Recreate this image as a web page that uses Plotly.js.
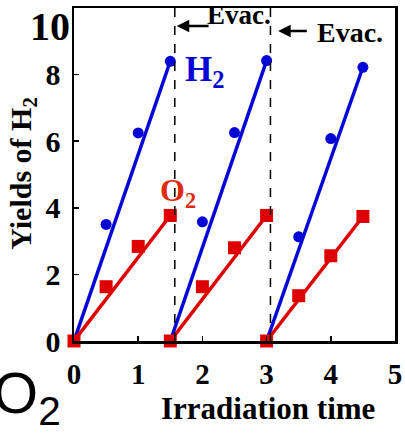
<!DOCTYPE html>
<html>
<head>
<meta charset="utf-8">
<script src="https://cdn.plot.ly/plotly-3.0.1.min.js"></script>
<style>html,body{margin:0;padding:0;background:#fff;}#chart{width:405px;height:436px;}</style>
</head>
<body>
<div id="chart"></div>
<script>
// Irradiation time per cycle
const timeCycle1 = [0, 0.5, 1.0, 1.5];
const timeCycle2 = [1.5, 2.0, 2.5, 3.0];
const timeCycle3 = [3.0, 3.5, 4.0, 4.5];
// Yields of H2 per cycle
const h2Cycle1 = [0, 3.50, 6.25, 8.40];
const h2Cycle2 = [0, 3.58, 6.26, 8.42];
const h2Cycle3 = [0, 3.13, 6.08, 8.22];
// Yields of O2 per cycle
const o2Cycle1 = [0, 1.63, 2.84, 3.77];
const o2Cycle2 = [0, 1.63, 2.80, 3.77];
const o2Cycle3 = [0, 1.36, 2.56, 3.74];
// Evacuation times
const evacTimes = [1.57, 3.06];
const xTicks = [0, 1, 2, 3, 4, 5];
const yTicks = [0, 2, 4, 6, 8];

const BLUE = '#0505d5';
const RED = '#de0000';
const serif = '"Liberation Serif", "Times New Roman", serif';

const times = [timeCycle1, timeCycle2, timeCycle3];
const h2 = [h2Cycle1, h2Cycle2, h2Cycle3];
const o2 = [o2Cycle1, o2Cycle2, o2Cycle3];

const traces = [];
function ends(a) { return [a[0], a[a.length - 1]]; }
for (let i = 0; i < 3; i++) {
  traces.push({x: ends(times[i]), y: ends(h2[i]), mode: 'lines', line: {color: BLUE, width: 3.5}, showlegend: false, hoverinfo: 'skip'});
}
for (let i = 0; i < 3; i++) {
  traces.push({x: ends(times[i]), y: ends(o2[i]), mode: 'lines', line: {color: RED, width: 3.5}, showlegend: false, hoverinfo: 'skip'});
}
for (let i = 0; i < 3; i++) {
  traces.push({x: times[i], y: h2[i], mode: 'markers', marker: {color: BLUE, size: 11, symbol: 'circle'}, cliponaxis: false, showlegend: false});
}
for (let i = 0; i < 3; i++) {
  traces.push({x: times[i], y: o2[i], mode: 'markers', marker: {color: RED, size: 13, symbol: 'square'}, cliponaxis: false, showlegend: false});
}

const shapes = evacTimes.map(t => ({type: 'line', xref: 'x', yref: 'paper', x0: t, x1: t, y0: 0, y1: 1, layer: 'above', line: {color: '#000', width: 1.5, dash: 'dash'}}));

const annotations = [
  {xref: 'x', yref: 'y', x: 2.57, y: 9.8, text: '<b>Evac.</b>', showarrow: false, font: {family: serif, size: 27, color: '#000'}},
  {xref: 'x', yref: 'y', x: 1.6, y: 9.46, ax: 2.12, ay: 9.46, axref: 'x', ayref: 'y', text: '', showarrow: true, arrowhead: 2, arrowsize: 1, arrowwidth: 2.5, arrowcolor: '#000'},
  {xref: 'x', yref: 'y', x: 4.3, y: 9.25, text: '<b>Evac.</b>', showarrow: false, font: {family: serif, size: 28, color: '#000'}},
  {xref: 'x', yref: 'y', x: 3.18, y: 9.31, ax: 3.65, ay: 9.31, axref: 'x', ayref: 'y', text: '', showarrow: true, arrowhead: 2, arrowsize: 1, arrowwidth: 2.5, arrowcolor: '#000'},
  {xref: 'x', yref: 'y', x: 2.04, y: 8.1, text: '<b>H<sub>2</sub></b>', showarrow: false, font: {family: serif, size: 35, color: BLUE}},
  {xref: 'x', yref: 'y', x: 1.62, y: 4.45, text: '<b>O<sub>2</sub></b>', showarrow: false, font: {family: serif, size: 32, color: '#dd2a10'}},
  {xref: 'paper', yref: 'paper', x: -0.075, xanchor: 'center', y: 0.945, yanchor: 'middle', text: '<b>10</b>', showarrow: false, font: {family: serif, size: 40, color: '#000'}},
  {xref: 'paper', yref: 'paper', x: -0.159, xanchor: 'center', y: 0.505, yanchor: 'middle', text: '<b>Yields of H<sub>2</sub></b>', textangle: -90, showarrow: false, font: {family: serif, size: 30, color: '#000'}},
  {xref: 'paper', yref: 'paper', x: 0.604, xanchor: 'center', y: -0.204, yanchor: 'middle', text: '<b>Irradiation time</b>', showarrow: false, font: {family: serif, size: 31, color: '#000'}},
  {xref: 'paper', yref: 'paper', x: -0.26, xanchor: 'left', y: -0.051, yanchor: 'top', text: 'O<sub>2</sub>', showarrow: false, font: {family: '"Liberation Sans", Arial, sans-serif', size: 58, color: '#000'}}
];

const layout = {
  width: 405, height: 436,
  margin: {l: 74, r: 10, t: 8, b: 95},
  paper_bgcolor: '#fff', plot_bgcolor: '#fff',
  showlegend: false,
  xaxis: {range: [0, 5], tickvals: xTicks, ticktext: xTicks.map(v => '<b>' + v + '</b>'), ticks: 'inside', ticklen: 5, tickwidth: 1.5, tickcolor: '#000',
    showline: true, mirror: true, linecolor: '#000', linewidth: 2.5, showgrid: false, zeroline: false,
    tickfont: {family: serif, size: 29, color: '#000'}, ticklabelstandoff: 6},
  yaxis: {range: [0, 10], tickvals: yTicks, ticktext: yTicks.map(v => '<b>' + v + '</b>'), ticks: 'inside', ticklen: 5, tickwidth: 1.5, tickcolor: '#000',
    showline: true, mirror: true, linecolor: '#000', linewidth: 2.5, showgrid: false, zeroline: false,
    tickfont: {family: serif, size: 30, color: '#000'}, ticklabelstandoff: 5},
  shapes: shapes,
  annotations: annotations
};

Plotly.newPlot('chart', traces, layout, {displayModeBar: false, staticPlot: true});
</script>
</body>
</html>
